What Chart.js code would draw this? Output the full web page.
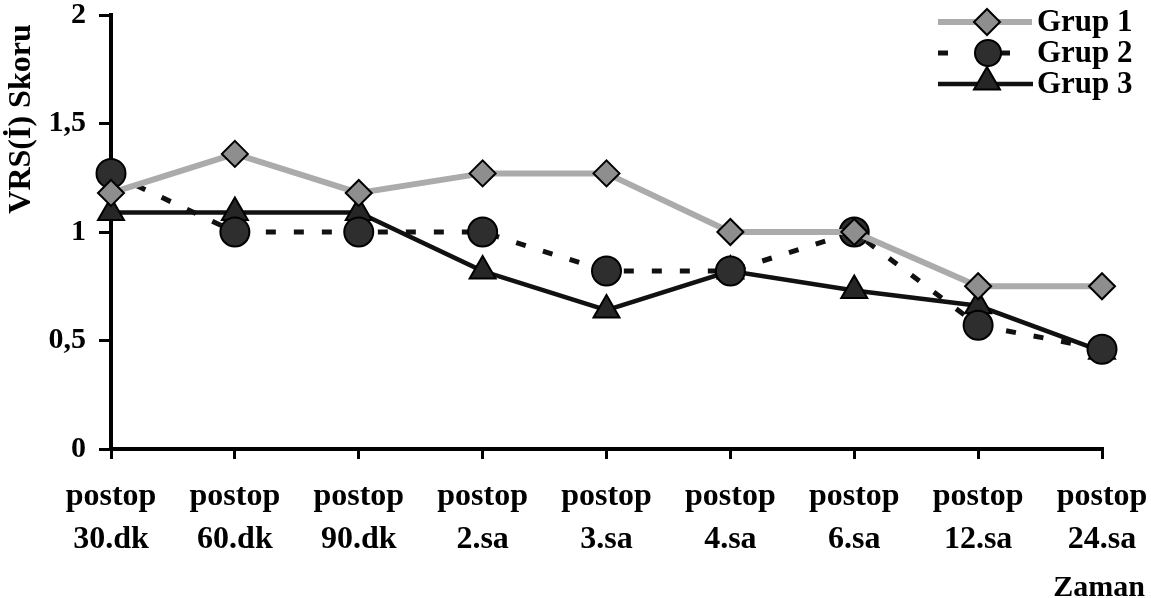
<!DOCTYPE html>
<html lang="tr">
<head>
<meta charset="UTF-8">
<title>VRS(İ) Skoru</title>
<script src="https://cdn.jsdelivr.net/npm/chart.js"></script>
<style>
    html, body { margin: 0; padding: 0; background: #fff; }
    #wrap { width: 1151px; height: 598px; position: relative; }
</style>
</head>
<body>
<div id="wrap"><canvas id="vrsChart"></canvas></div>
<script>
    var zamanlar = [
        ['postop', '30.dk'], ['postop', '60.dk'], ['postop', '90.dk'],
        ['postop', '2.sa'], ['postop', '3.sa'], ['postop', '4.sa'],
        ['postop', '6.sa'], ['postop', '12.sa'], ['postop', '24.sa']
    ];
    var grup1 = [1.18, 1.36, 1.18, 1.27, 1.27, 1.0, 1.0, 0.75, 0.75];
    var grup2 = [1.27, 1.0, 1.0, 1.0, 0.82, 0.82, 1.0, 0.57, 0.46];
    var grup3 = [1.09, 1.09, 1.09, 0.82, 0.64, 0.82, 0.73, 0.66, 0.45];
    var yTicks = [0, 0.5, 1, 1.5, 2];

    var serif = '"Liberation Serif", "Times New Roman", serif';

    var styles = [
        { label: 'Grup 1', color: '#ababab', width: 6, dash: [], point: 'rectRot', radius: 13, fill: '#8e8e8e' },
        { label: 'Grup 2', color: '#111', width: 5, dash: [10, 18], point: 'circle', radius: 14.5, fill: '#2e2e2e' },
        { label: 'Grup 3', color: '#111', width: 4.5, dash: [], point: 'triangle', radius: 15, fill: '#262626' }
    ];

    function marker(ctx, s, x, y) {
        ctx.save();
        ctx.fillStyle = s.fill;
        ctx.strokeStyle = '#000';
        Chart.helpers.drawPoint(ctx, {
            pointStyle: s.point,
            radius: s.point === 'circle' ? 13 : s.radius,
            rotation: 0,
            borderWidth: 2
        }, x, y);
        ctx.restore();
    }

    function segment(ctx, s, x0, x1, y) {
        ctx.save();
        ctx.strokeStyle = s.color;
        ctx.lineWidth = s.width;
        ctx.beginPath();
        ctx.moveTo(x0, y);
        ctx.lineTo(x1, y);
        ctx.stroke();
        ctx.restore();
    }

    // legend and axis titles are drawn by hand
    var extras = {
        id: 'extras',
        afterDraw: function(chart) {
            var ctx = chart.ctx;
            ctx.save();
            ctx.fillStyle = '#000';

            // y title
            ctx.save();
            ctx.font = 'bold 32px ' + serif;
            ctx.translate(22, 119);
            ctx.rotate(-Math.PI / 2);
            ctx.textAlign = 'center';
            ctx.textBaseline = 'middle';
            ctx.fillText('VRS(İ) Skoru', 0, 0);
            ctx.restore();

            // x title
            ctx.font = 'bold 30px ' + serif;
            ctx.textAlign = 'center';
            ctx.textBaseline = 'middle';
            ctx.fillText('Zaman', 1099, 588);

            // legend
            segment(ctx, styles[0], 938, 1032, 22);
            marker(ctx, styles[0], 987, 22);

            segment(ctx, styles[1], 938, 948, 53);
            segment(ctx, styles[1], 1000, 1010, 53);
            marker(ctx, styles[1], 988, 53);

            segment(ctx, styles[2], 938, 1033, 84);
            marker(ctx, styles[2], 987, 82);

            ctx.font = 'bold 31px ' + serif;
            ctx.textAlign = 'left';
            ctx.textBaseline = 'middle';
            ctx.fillText('Grup 1', 1037, 23);
            ctx.fillText('Grup 2', 1037, 54);
            ctx.fillText('Grup 3', 1037, 85);
            ctx.restore();
        }
    };

    var seriler = [grup1, grup2, grup3];
    var datasets = seriler.map(function(vals, i) {
        var s = styles[i];
        return {
            label: s.label,
            data: vals,
            borderColor: s.color,
            borderWidth: s.width,
            borderDash: s.dash,
            pointStyle: s.point,
            pointRadius: s.radius,
            pointBackgroundColor: s.fill,
            pointBorderColor: '#000',
            pointBorderWidth: 2,
            tension: 0,
            fill: false,
            clip: false
        };
    });

    new Chart(document.getElementById('vrsChart'), {
        type: 'line',
        data: { labels: zamanlar, datasets: datasets },
        options: {
            responsive: true,
            maintainAspectRatio: false,
            animation: false,
            layout: { autoPadding: false, padding: { top: 15, right: 49, left: 0, bottom: 0 } },
            plugins: {
                legend: { display: false },
                tooltip: { enabled: false }
            },
            scales: {
                x: {
                    offset: false,
                    // fixed box size, no extra room for the end labels
                    afterFit: function(scale) {
                        scale.height = 149;
                        scale.paddingLeft = 0;
                        scale.paddingRight = 0;
                    },
                    grid: { drawOnChartArea: false, tickLength: 10, color: '#000', lineWidth: 3 },
                    border: { color: '#000', width: 4 },
                    ticks: {
                        color: '#000',
                        font: { family: serif, size: 32, weight: 'bold', lineHeight: 1.32 },
                        padding: 17,
                        maxRotation: 0,
                        autoSkip: false
                    }
                },
                y: {
                    min: 0,
                    max: 2,
                    afterFit: function(scale) {
                        scale.width = 111;
                        scale.paddingTop = 0;
                        scale.paddingBottom = 0;
                    },
                    afterBuildTicks: function(scale) {
                        scale.ticks = yTicks.map(function(v) { return { value: v }; });
                    },
                    grid: { drawOnChartArea: false, tickLength: 12, color: '#000', lineWidth: 3 },
                    border: { color: '#000', width: 4 },
                    ticks: {
                        color: '#000',
                        font: { family: serif, size: 30, weight: 'bold' },
                        padding: 13,
                        callback: function(v) { return String(v).replace('.', ','); }
                    }
                }
            }
        },
        plugins: [extras]
    });
</script>
</body>
</html>
